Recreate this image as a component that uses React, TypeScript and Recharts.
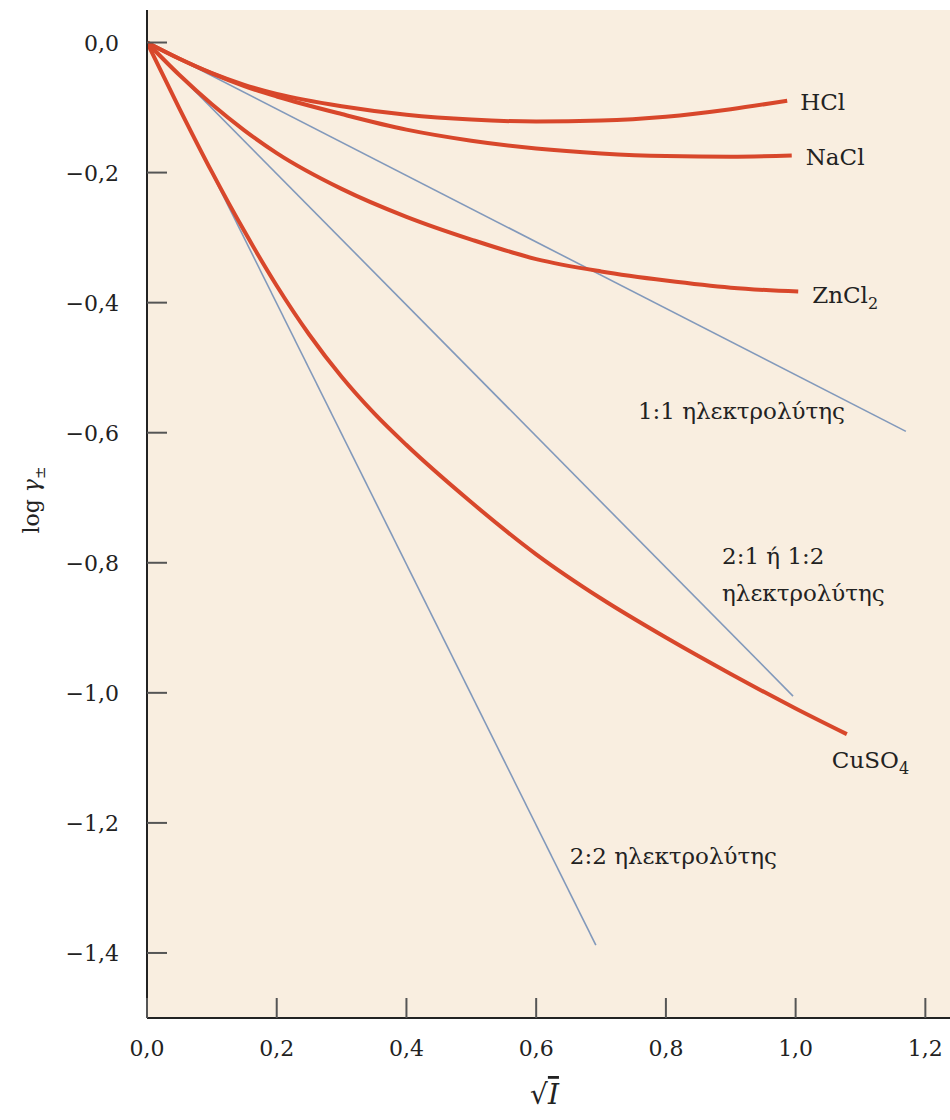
import React from 'react';
import { LineChart, Line, XAxis, YAxis, CartesianGrid } from 'recharts';

// values (x = sqrt(I), y = log gamma±)
const hclX = [0, 0.05, 0.1, 0.15, 0.2, 0.3, 0.4, 0.5, 0.6, 0.7, 0.8, 0.9, 0.987];
const hclY = [0, -0.025, -0.047, -0.065, -0.079, -0.098, -0.111, -0.1185, -0.1215, -0.12, -0.114, -0.1025, -0.0895];

const naclX = [0, 0.05, 0.1, 0.15, 0.2, 0.3, 0.4, 0.5, 0.6, 0.7, 0.8, 0.9, 0.994];
const naclY = [0, -0.025, -0.0475, -0.067, -0.083, -0.11, -0.134, -0.151, -0.163, -0.1705, -0.1745, -0.1755, -0.1736];

const zncl2X = [0, 0.05, 0.1, 0.15, 0.2, 0.3, 0.4, 0.5, 0.6, 0.7, 0.8, 0.9, 1.004];
const zncl2Y = [0, -0.05, -0.095, -0.135, -0.17, -0.225, -0.268, -0.303, -0.333, -0.352, -0.366, -0.377, -0.383];

const cuso4X = [0, 0.05, 0.1, 0.15, 0.2, 0.25, 0.3, 0.35, 0.4, 0.5, 0.6, 0.7, 0.8, 0.9, 1.0, 1.079];
const cuso4Y = [0, -0.1015, -0.199, -0.29, -0.374, -0.449, -0.514, -0.57, -0.619, -0.707, -0.787, -0.855, -0.915, -0.971, -1.024, -1.0635];

// Debye–Hückel limiting lines (end points)
const line11X = [0, 1.17];
const line11Y = [0, -0.598];
const line21X = [0, 0.996];
const line21Y = [0, -1.005];
const line22X = [0, 0.692];
const line22Y = [0, -1.388];

const xTicks = [0, 0.2, 0.4, 0.6, 0.8, 1.0, 1.2];
const yTicks = [0, -0.2, -0.4, -0.6, -0.8, -1.0, -1.2, -1.4];

const FONT = '"DejaVu Serif", "Liberation Serif", serif';
const RED = '#d8472b';
const BLUE = '#8299bb';
const BG = '#f9eee0';

const pts = (xs: number[], ys: number[]) => xs.map((x, i) => ({ x, y: ys[i] }));

const fmt = (v: number) => {
  const s = Math.abs(v).toFixed(1).replace('.', ',');
  return v < 0 ? '\u2212' + s : s;
};

const YTick = (props: any) => {
  const { x, y, payload } = props;
  return (
    <g>
      <line x1={x} x2={x + 20} y1={y} y2={y} stroke="#555" strokeWidth={2} />
      <text x={x - 28} y={y + 8} textAnchor="end" fontFamily={FONT} fontSize={22} fill="#222">
        {fmt(payload.value)}
      </text>
    </g>
  );
};

const XTick = (props: any) => {
  const { x, y, payload } = props;
  return (
    <g>
      <line x1={x} x2={x} y1={y - 20} y2={y} stroke="#555" strokeWidth={2} />
      <text x={x} y={y + 38} textAnchor="middle" fontFamily={FONT} fontSize={22} fill="#222">
        {fmt(payload.value)}
      </text>
    </g>
  );
};

type LabelSpec = { lines: string[]; sub?: string; dx: number; dy: number; anchor?: 'start' | 'end' };

const endLabel = (spec: LabelSpec, count: number) => (props: any) => {
  const { x, y, index } = props;
  if (index !== count - 1) return <g />;
  return (
    <text
      x={x + spec.dx}
      y={y + spec.dy}
      textAnchor={spec.anchor || 'start'}
      fontFamily={FONT}
      fontSize={23}
      fill="#222"
    >
      {spec.lines.map((t, i) => (
        <tspan key={i} x={x + spec.dx} dy={i === 0 ? 0 : 37}>
          {t}
          {spec.sub && i === spec.lines.length - 1 ? (
            <tspan fontSize={16} dy={6}>{spec.sub}</tspan>
          ) : null}
        </tspan>
      ))}
    </text>
  );
};

const series = [
  { key: 'l22', data: pts(line22X, line22Y), color: BLUE, w: 1.6, label: { lines: ['2:2 ηλεκτρολύτης'], dx: -26, dy: -81 } },
  { key: 'l21', data: pts(line21X, line21Y), color: BLUE, w: 1.6, label: { lines: ['2:1 ή 1:2', 'ηλεκτρολύτης'], dx: -71, dy: -132 } },
  { key: 'l11', data: pts(line11X, line11Y), color: BLUE, w: 1.6, label: { lines: ['1:1 ηλεκτρολύτης'], dx: -61, dy: -12, anchor: 'end' as const } },
  { key: 'HCl', data: pts(hclX, hclY), color: RED, w: 4, label: { lines: ['HCl'], dx: 13, dy: 9 } },
  { key: 'NaCl', data: pts(naclX, naclY), color: RED, w: 4, label: { lines: ['NaCl'], dx: 14, dy: 10 } },
  { key: 'ZnCl2', data: pts(zncl2X, zncl2Y), color: RED, w: 4, label: { lines: ['ZnCl'], sub: '2', dx: 14, dy: 11 } },
  { key: 'CuSO4', data: pts(cuso4X, cuso4Y), color: RED, w: 4, label: { lines: ['CuSO'], sub: '4', dx: -15, dy: 34 } },
];

const YLabel = () => (
  <text
    transform="translate(39,500) rotate(-90)"
    textAnchor="middle"
    fontFamily={FONT}
    fontSize={22}
    fill="#222"
  >
    log <tspan fontStyle="italic">γ</tspan>
    <tspan fontSize={15} dy={6}>±</tspan>
  </text>
);

const XLabel = (props: any) => {
  const vb = props.viewBox || { x: 147, y: 1018, width: 803 };
  const cx = vb.x + vb.width / 2 - 4;
  return (
    <text x={cx} y={vb.y + 86} textAnchor="middle" fontFamily={FONT} fontSize={28} fill="#222">
      √<tspan fontStyle="italic" textDecoration="overline" style={{ textDecoration: 'overline' }}>I</tspan>
    </text>
  );
};

export default function App() {
  return (
    <div style={{ position: 'absolute', left: 0, top: 0, background: '#fff' }}>
      <LineChart width={950} height={1120} margin={{ top: 10, right: 0, bottom: 0, left: 0 }}>
        <CartesianGrid horizontal={false} vertical={false} fill={BG} />
        <XAxis
          type="number"
          dataKey="x"
          domain={[0, 1.238]}
          ticks={xTicks}
          allowDataOverflow
          height={102}
          tickSize={0}
          tickMargin={0}
          tickLine={false}
          tick={<XTick />}
          axisLine={{ stroke: '#222', strokeWidth: 2 }}
          label={<XLabel />}
        />
        <YAxis
          type="number"
          dataKey="y"
          domain={[-1.5, 0.05]}
          ticks={yTicks}
          allowDataOverflow
          width={147}
          tickSize={0}
          tickMargin={0}
          tickLine={false}
          tick={<YTick />}
          axisLine={{ stroke: '#222', strokeWidth: 2 }}
          label={<YLabel />}
        />
        {series.map((s) => (
          <Line
            key={s.key}
            data={s.data}
            dataKey="y"
            type="monotone"
            stroke={s.color}
            strokeWidth={s.w}
            dot={false}
            activeDot={false}
            isAnimationActive={false}
            label={endLabel(s.label as LabelSpec, s.data.length)}
          />
        ))}
      </LineChart>
    </div>
  );
}
